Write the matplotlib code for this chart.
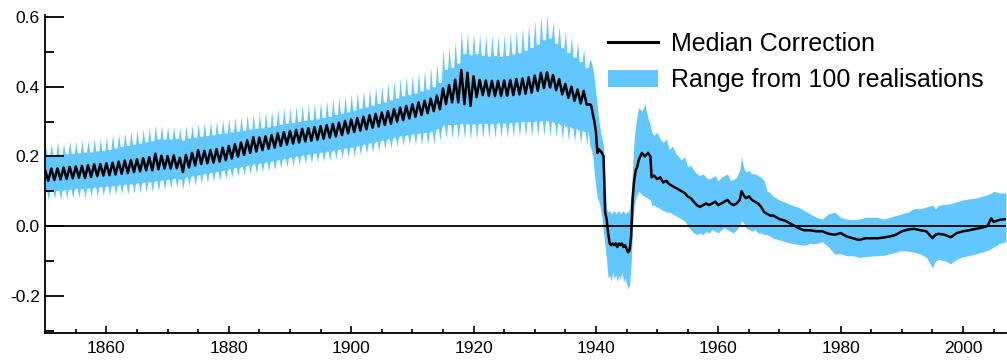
import matplotlib
matplotlib.use("Agg")
import matplotlib.pyplot as plt
from matplotlib.ticker import MultipleLocator
import numpy as np

plt.rcParams['font.family'] = ['Liberation Sans', 'DejaVu Sans']

# ---- Data: seasonal cycle years 1850-1938 (peak at start of year, trough mid-year)
cycle_years = list(range(1850, 1939))
med_peak = [.160, .165, .166, .168, .170, .171, .173, .175, .177, .178,
            .180, .182, .185, .188, .190, .192, .195, .198, .208, .202,
            .201, .203, .196, .204, .210, .218, .216, .218, .221, .225,
            .230, .235, .240, .246, .255, .254, .258, .261, .266, .270,
            .273, .276, .279, .281, .284, .287, .290, .293, .297, .302,
            .306, .310, .314, .318, .322, .326, .330, .336, .340, .345,
            .350, .355, .360, .366, .375, .395, .405, .420, .448, .440,
            .430, .420, .418, .417, .417, .418, .420, .422, .424, .427,
            .432, .440, .442, .434, .422, .408, .400, .392, .388]
med_trough = [.130, .132, .134, .135, .137, .139, .138, .141, .143, .145,
              .146, .148, .150, .152, .155, .157, .160, .160, .163, .165,
              .165, .166, .155, .168, .174, .178, .180, .182, .185, .189,
              .194, .199, .204, .210, .214, .218, .222, .225, .230, .234,
              .237, .240, .243, .245, .248, .251, .254, .257, .261, .266,
              .270, .274, .278, .282, .286, .290, .294, .300, .304, .309,
              .314, .319, .324, .330, .335, .350, .355, .355, .350, .345,
              .370, .376, .374, .373, .373, .374, .376, .378, .380, .383,
              .388, .396, .398, .390, .378, .368, .360, .352, .348]
up_peak = [.240, .235, .242, .238, .245, .243, .248, .246, .252, .250,
           .256, .262, .265, .268, .272, .276, .280, .285, .292, .288,
           .285, .287, .280, .288, .290, .294, .296, .299, .302, .306,
           .310, .313, .316, .320, .322, .325, .329, .332, .336, .340,
           .342, .345, .348, .350, .353, .356, .361, .366, .370, .375,
           .380, .385, .390, .395, .400, .405, .412, .418, .425, .430,
           .435, .442, .448, .455, .470, .510, .515, .530, .560, .555,
           .555, .550, .548, .550, .546, .550, .555, .560, .570, .580,
           .590, .605, .610, .590, .575, .560, .545, .530, .510]
up_trough = [.205, .204, .206, .208, .209, .210, .212, .213, .216, .217,
             .220, .224, .228, .232, .235, .238, .242, .245, .250, .250,
             .250, .252, .247, .253, .255, .258, .260, .262, .265, .268,
             .270, .272, .275, .278, .280, .282, .285, .288, .292, .295,
             .297, .300, .303, .305, .308, .311, .315, .320, .324, .328,
             .333, .338, .342, .347, .352, .356, .362, .368, .374, .378,
             .382, .388, .393, .400, .412, .450, .455, .468, .495, .492,
             .495, .490, .488, .490, .487, .490, .494, .498, .505, .513,
             .522, .535, .540, .525, .512, .498, .485, .472, .455]
lo_peak = [.100, .103, .102, .104, .106, .108, .107, .110, .112, .113,
           .115, .116, .118, .120, .121, .124, .126, .127, .130, .132,
           .135, .137, .134, .141, .144, .148, .151, .154, .157, .160,
           .165, .168, .171, .175, .178, .181, .184, .187, .191, .195,
           .198, .201, .204, .207, .210, .212, .215, .218, .221, .224,
           .227, .231, .235, .239, .243, .247, .251, .255, .259, .262,
           .265, .267, .269, .272, .280, .290, .292, .292, .295, .293,
           .294, .295, .295, .294, .296, .295, .297, .298, .300, .300,
           .301, .302, .302, .298, .292, .286, .281, .276, .272]
lo_trough = [.075, .078, .076, .080, .079, .082, .080, .085, .084, .088,
             .087, .090, .092, .091, .095, .096, .098, .097, .100, .104,
             .108, .110, .106, .115, .118, .122, .125, .128, .131, .135,
             .140, .143, .146, .149, .152, .155, .158, .161, .165, .170,
             .172, .175, .178, .180, .183, .185, .188, .191, .194, .197,
             .200, .204, .208, .212, .216, .220, .224, .228, .232, .232,
             .232, .232, .233, .235, .245, .252, .252, .250, .252, .248,
             .250, .252, .253, .252, .254, .253, .255, .256, .258, .258,
             .258, .260, .260, .256, .250, .245, .240, .235, .232]

# ---- Data: 1939 onwards (irregular sampling)
late_t = [1939.0, 1939.25, 1939.5, 1939.75, 1940.0, 1940.25, 1940.5, 1940.75,
          1941.0, 1941.25, 1941.5, 1941.75, 1942.0, 1942.25, 1942.5, 1942.75,
          1943.0, 1943.25, 1943.5, 1943.75, 1944.0, 1944.25, 1944.5, 1944.75,
          1945.0, 1945.25, 1945.5, 1945.75, 1946.0, 1946.25, 1946.5, 1946.75,
          1947.0, 1947.5, 1948.0, 1948.5, 1948.9, 1949.1, 1949.5, 1950.0,
          1950.5, 1951.0, 1951.5, 1952.0, 1952.5, 1953.0, 1953.5, 1954.0,
          1954.5, 1955.0, 1955.5, 1956.0, 1956.5, 1957.0, 1957.5, 1958.0,
          1958.5, 1959.0, 1959.5, 1960.0, 1960.5, 1961.0, 1961.5, 1962.0,
          1962.5, 1963.0, 1963.5, 1963.8, 1964.1, 1964.5, 1965.0, 1965.5,
          1966.0, 1966.5, 1967.0, 1967.5, 1968.0, 1968.5, 1969, 1970,
          1971, 1972, 1973, 1974, 1975, 1976, 1977, 1978,
          1979, 1980, 1981, 1982, 1983, 1984, 1985, 1986,
          1987, 1988, 1989, 1990, 1991, 1992, 1993, 1994,
          1995, 1995.5, 1996, 1997, 1998, 1999, 2000, 2001,
          2002, 2003, 2004, 2004.6, 2005, 2006, 2007]
late_med = [.350, .345, .320, .300, .270, .210, .220, .215,
            .210, .200, .040, .020, -.020, -.050, -.055, -.050,
            -.055, -.050, -.060, -.050, -.055, -.050, -.060, -.055,
            -.065, -.075, -.070, -.030, .080, .130, .160, .170,
            .190, .210, .200, .210, .200, .140, .145, .135,
            .140, .125, .130, .120, .115, .110, .105, .100,
            .095, .085, .080, .070, .060, .055, .060, .065,
            .060, .065, .070, .060, .065, .070, .075, .065,
            .060, .065, .075, .100, .090, .080, .085, .075,
            .070, .065, .055, .040, .035, .030, .030, .020,
            .015, .005, -.005, -.012, -.012, -.015, -.015, -.022,
            -.025, -.020, -.030, -.035, -.040, -.035, -.035, -.035,
            -.033, -.030, -.025, -.015, -.010, -.008, -.012, -.015,
            -.035, -.025, -.022, -.025, -.032, -.020, -.015, -.012,
            -.008, -.005, .000, .022, .012, .018, .020]
late_up = [.480, .470, .450, .420, .380, .340, .300, .270,
           .250, .230, .120, .050, .040, .045, .035, .040,
           .045, .035, .040, .045, .035, .040, .045, .035,
           .040, .040, .050, .090, .170, .250, .290, .320,
           .340, .330, .350, .310, .290, .270, .260, .270,
           .250, .240, .250, .220, .230, .210, .200, .190,
           .200, .170, .175, .160, .150, .145, .150, .140,
           .135, .140, .145, .130, .140, .145, .150, .130,
           .135, .140, .160, .200, .170, .155, .160, .150,
           .150, .145, .140, .130, .100, .095, .085, .075,
           .068, .060, .055, .045, .035, .025, .020, .035,
           .040, .025, .020, .018, .020, .025, .025, .025,
           .020, .025, .030, .035, .040, .050, .050, .055,
           .060, .050, .060, .062, .065, .070, .075, .078,
           .080, .085, .090, .095, .100, .095, .095]
late_lo = [.230, .220, .200, .150, .110, .080, .070, .050,
           .020, -.020, -.060, -.100, -.150, -.140, -.160, -.130,
           -.150, -.140, -.160, -.140, -.155, -.130, -.160, -.150,
           -.165, -.180, -.170, -.110, .000, .060, .080, .090,
           .100, .090, .085, .080, .075, .060, .060, .055,
           .050, .045, .040, .040, .035, .030, .025, .020,
           .015, .000, -.010, -.020, -.025, -.020, -.025, -.015,
           -.020, -.010, -.015, -.020, -.010, -.005, -.010, -.015,
           -.020, -.010, .000, .015, .010, -.005, -.010, -.015,
           -.010, -.020, -.020, -.025, -.025, -.030, -.035, -.040,
           -.045, -.050, -.052, -.055, -.050, -.050, -.045, -.060,
           -.080, -.080, -.085, -.085, -.090, -.088, -.086, -.085,
           -.084, -.080, -.075, -.070, -.072, -.075, -.080, -.090,
           -.120, -.100, -.095, -.100, -.108, -.095, -.088, -.085,
           -.080, -.075, -.070, -.065, -.060, -.050, -.045]

# ---- assemble series (median: peak / trough per year;
#      band: narrow upward spikes on the upper edge, narrow downward spikes on the lower edge)
t_med, med = [], []
t_band, up, lo = [], [], []
for i, yr in enumerate(cycle_years):
    t_med += [yr, yr + 0.5]
    med += [med_peak[i], med_trough[i]]
    t_band += [yr, yr + 0.25, yr + 0.5, yr + 0.75]
    up += [up_peak[i], up_trough[i], up_trough[i], up_trough[i]]
    lo += [lo_peak[i], lo_peak[i], lo_trough[i], lo_peak[i]]
t_med += late_t
med += late_med
t_band += late_t
up += late_up
lo += late_lo

fig = plt.figure(figsize=(10.07, 3.62), dpi=100)
ax = fig.add_axes([0.0449, 0.0801, 0.954, 0.8785])

band_color = '#62C6FF'
ax.fill_between(t_band, lo, up, color=band_color, lw=0, zorder=1,
                label='Range from 100 realisations')
ax.axhline(0.0, color='black', lw=1.3, zorder=2)
ax.plot(t_med, med, color='black', lw=1.8, zorder=3, label='Median Correction')

ax.set_xlim(1850, 2007)
ax.set_ylim(-0.307, 0.606)

ax.spines['top'].set_visible(False)
ax.spines['right'].set_visible(False)
ax.spines['left'].set_linewidth(1.3)
ax.spines['bottom'].set_linewidth(1.3)

ax.xaxis.set_major_locator(MultipleLocator(20))
ax.xaxis.set_minor_locator(MultipleLocator(5))
ax.yaxis.set_major_locator(MultipleLocator(0.2))
ax.yaxis.set_minor_locator(MultipleLocator(0.1))
ax.tick_params(axis='y', which='major', direction='in', length=13.5, width=1.3,
               labelsize=12.5, pad=4)
ax.tick_params(axis='y', which='minor', direction='in', length=6.5, width=1.3)
ax.tick_params(axis='x', which='major', direction='in', length=5, width=1.2,
               labelsize=12.5, pad=6)
ax.tick_params(axis='x', which='minor', direction='in', length=3, width=1.2)
ax.set_xticks([1860, 1880, 1900, 1920, 1940, 1960, 1980, 2000])
ax.set_xticklabels(['1860', '1880', '1900', '1920', '1940', '1960', '1980', '2000'])
ax.set_yticks([-0.2, 0.0, 0.2, 0.4, 0.6])
ax.set_yticklabels(['-0.2', '0.0', '0.2', '0.4', '0.6'])

handles, labels = ax.get_legend_handles_labels()
order = [1, 0]
leg = ax.legend([handles[i] for i in order], [labels[i] for i in order],
                loc='upper left', bbox_to_anchor=(0.586, 0.947), frameon=False,
                fontsize=18, handlelength=2.0, handletextpad=0.5,
                labelspacing=0.5, borderaxespad=0.0, borderpad=0.0)
leg.get_lines()[0].set_linewidth(2.2)

fig.savefig('out.png', dpi=100)
